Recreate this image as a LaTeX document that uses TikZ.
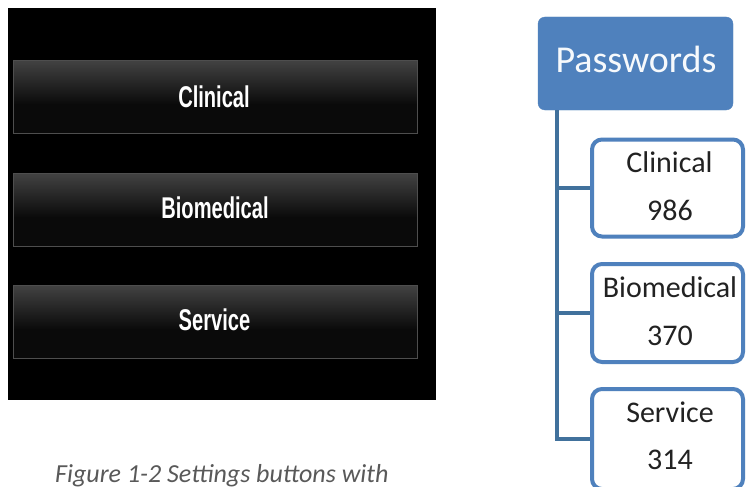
\documentclass[tikz,border=0pt]{standalone}
\usepackage{fontspec}
\newfontfamily\carlito{Carlito}
\newfontfamily\btnfont[FakeStretch=0.67]{Liberation Sans}
\definecolor{pwblue}{HTML}{4F81BD}
\definecolor{lineblue}{HTML}{41719C}
\definecolor{btntop}{HTML}{707070}
\definecolor{btnmid}{HTML}{2A2A2A}
\definecolor{btnlow}{HTML}{0A0A0A}
\definecolor{btnedge}{HTML}{4E4E4E}
\definecolor{captiongray}{HTML}{595959}
\definecolor{txtdark}{HTML}{222222}
\pgfdeclareverticalshading{btnshade}{100bp}{color(0bp)=(btnlow); color(45bp)=(btnlow); color(62bp)=(btnmid); color(100bp)=(btntop)}
\tikzset{
  panel/.style={fill=black, draw=none},
  btn/.style={shading=btnshade, draw=btnedge, line width=1.2pt, minimum width=404pt, minimum height=73pt, inner sep=0pt},
  btntext/.style={anchor=base, text=white, font=\btnfont\bfseries\fontsize{30}{34}\selectfont, inner sep=0pt},
  pwbox/.style={fill=pwblue, draw=pwblue, rounded corners=7pt, minimum width=195pt, minimum height=93pt, inner sep=0pt},
  pwtext/.style={anchor=base, text=white!95!pwblue, font=\carlito\fontsize{38}{44}\selectfont, inner sep=0pt},
  childbox/.style={fill=white, draw=pwblue, line width=4pt, rounded corners=10pt, minimum width=151pt, inner sep=0pt},
  childtext/.style={anchor=base, text=txtdark, font=\carlito\fontsize{30}{36}\selectfont, inner sep=0pt},
  conn/.style={draw=lineblue, line width=4pt},
  captext/.style={anchor=base west, text=captiongray, font=\carlito\itshape\fontsize{26}{30}\selectfont, inner sep=0pt}
}
\begin{document}
\begin{tikzpicture}[x=1pt,y=-1pt]
\useasboundingbox (0,0) rectangle (747,487);
\clip (0,0) rectangle (747,487);
\fill[white] (0,0) rectangle (747,487);
% left screenshot panel
\node[panel, minimum width=428pt, minimum height=392pt, inner sep=0pt] (scr) at (222,204) {};
\node[btn] (b1) at (215.5,97) {};
\node[btn] (b2) at (215.5,210) {};
\node[btn] (b3) at (215.5,322) {};
\node[btntext] (t1) at (214,107) {Clinical};
\node[btntext] (t2) at (215,218) {Biomedical};
\node[btntext] (t3) at (214.5,330) {Service};
% caption
\node[captext] (cap) at (55,482) {Figure 1-2 Settings buttons with};
% right hierarchy
\node[pwbox] (pw) at (635.5,63.5) {};
\node[pwtext] (pwt) at (636,73) {Passwords};
\coordinate (trunk) at (557,110);
\node[childbox, minimum height=97pt] (cl) at (667.5,188) {};
\node[childbox, minimum height=98pt] (bio) at (667.5,313) {};
\node[childbox, minimum height=100pt] (srv) at (667.5,439) {};
\draw[conn] (trunk) |- (cl.west);
\draw[conn] (trunk) |- (bio.west);
\draw[conn] (trunk) |- (srv.west);
\node[childtext] (clt) at (669.5,172) {Clinical};
\node[childtext] (cln) at (670,220) {986};
\node[childtext] (biot) at (670,297) {Biomedical};
\node[childtext] (bion) at (670,345) {370};
\node[childtext] (srvt) at (670,422) {Service};
\node[childtext] (srvn) at (670,469) {314};
\end{tikzpicture}
\end{document}
